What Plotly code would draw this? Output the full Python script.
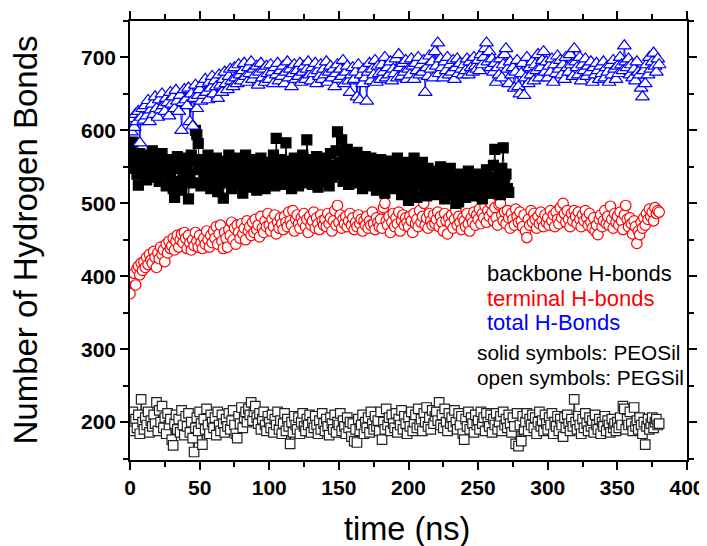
import plotly.graph_objects as go

# ---- data ----
total_pegsil = [
610, 598, 616, 604, 622, 612, 626, 583, 618, 630,
614, 634, 620, 641, 612, 628, 636, 622, 646, 630,
618, 642, 628, 650, 634, 626, 644, 638, 620, 652,
636, 646, 630, 655, 640, 626, 648, 600, 638, 656,
642, 634, 658, 612, 650, 606, 644, 662, 630, 648,
656, 640, 664, 648, 670, 652, 642, 666, 658, 674,
650, 668, 660, 644, 676, 662, 652, 670, 680, 664,
656, 674, 684, 668, 660, 686, 672, 664, 690, 676,
668, 682, 692, 674, 666, 686, 678, 694, 670, 684,
676, 688, 662, 680, 692, 672, 684, 666, 688, 678,
670, 690, 680, 664, 686, 676, 692, 668, 682, 674,
688, 664, 680, 694, 672, 684, 660, 678, 690, 670,
682, 674, 692, 666, 680, 688, 670, 684, 694, 676,
668, 686, 678, 692, 664, 682, 674, 690, 670, 684,
676, 694, 666, 680, 688, 672, 684, 660, 678, 690,
670, 684, 674, 696, 664, 680, 688, 668, 652, 676,
686, 670, 680, 646, 690, 642, 676, 664, 684, 672,
640, 680, 692, 668, 684, 676, 696, 666, 688, 678,
670, 690, 680, 700, 672, 686, 676, 694, 668, 684,
678, 698, 672, 704, 686, 674, 692, 680, 696, 670,
684, 676, 698, 688, 670, 692, 682, 700, 676, 690,
680, 696, 652, 686, 674, 702, 684, 694, 672, 708,
688, 720, 678, 698, 686, 672, 694, 682, 700, 676,
690, 680, 696, 670, 686, 698, 678, 692, 684, 676,
690, 682, 698, 676, 694, 686, 680, 700, 688, 684,
696, 682, 704, 690, 700, 712, 720, 694, 708, 686,
698, 680, 692, 666, 686, 676, 698, 672, 690, 704,
712, 684, 664, 694, 676, 686, 658, 680, 696, 660,
650, 678, 692, 648, 672, 700, 664, 686, 676, 694,
668, 690, 682, 704, 672, 686, 696, 708, 680, 694,
672, 688, 680, 698, 666, 690, 678, 702, 684, 696,
676, 690, 670, 700, 686, 680, 704, 690, 674, 712,
694, 686, 676, 700, 668, 690, 682, 698, 674, 688,
680, 694, 666, 686, 676, 692, 682, 670, 688, 678,
694, 672, 686, 680, 666, 690, 676, 696, 684, 670,
688, 678, 700, 690, 682, 716, 694, 686, 698, 676,
690, 672, 684, 668, 694, 680, 676, 658, 646, 682,
664, 690, 676, 700, 684, 694, 706, 688, 680, 698,
690]

backbone_peosil = [
570, 556, 584, 548, 562, 540, 525, 568, 552, 560,
544, 558, 532, 566, 548, 540, 572, 536, 556, 544,
562, 530, 550, 568, 542, 558, 524, 560, 546, 536,
552, 520, 508, 548, 564, 530, 556, 518, 544, 562,
532, 550, 506, 540, 566, 528, 558, 600, 594, 582,
546, 524, 560, 536, 552, 528, 566, 540, 520, 556,
532, 548, 562, 516, 544, 530, 558, 507, 540, 552,
528, 566, 544, 520, 556, 534, 548, 562, 526, 544,
558, 514, 540, 566, 530, 552, 522, 546, 560, 532,
548, 518, 556, 536, 562, 528, 544, 520, 552, 540,
530, 556, 542, 566, 524, 589, 548, 534, 560, 538,
552, 526, 583, 544, 530, 558, 520, 546, 562, 536,
548, 524, 556, 532, 566, 540, 528, 587, 552, 534,
560, 526, 546, 538, 564, 522, 550, 534, 558, 542,
530, 562, 546, 524, 568, 536, 552, 540, 572, 598,
556, 544, 587, 530, 562, 540, 574, 526, 552, 566,
538, 556, 528, 570, 544, 532, 560, 520, 548, 564,
534, 550, 524, 562, 540, 530, 556, 518, 546, 536,
560, 528, 550, 514, 542, 558, 522, 546, 534, 556,
520, 544, 562, 530, 548, 512, 540, 556, 526, 546,
504, 536, 552, 518, 562, 530, 508, 546, 526, 540,
556, 520, 538, 510, 548, 530, 516, 544, 522, 536,
512, 540, 526, 550, 518, 534, 506, 544, 520, 530,
548, 512, 536, 520, 500, 530, 502, 526, 540, 514,
532, 508, 522, 544, 516, 530, 510, 536, 520, 528,
512, 540, 524, 506, 532, 518, 546, 522, 528, 536,
514, 552, 574, 530, 520, 540, 512, 548, 576, 528,
540, 520, 515]

terminal_pegsil = [
376, 392, 398, 404, 388, 410, 414, 402, 418, 408,
420, 412, 426, 416, 430, 422, 418, 434, 426, 412,
432, 424, 440, 430, 436, 420, 444, 432, 448, 438,
442, 452, 436, 448, 456, 440, 450, 458, 446, 460,
452, 438, 456, 446, 436, 450, 442, 460, 448, 440,
456, 446, 438, 452, 444, 462, 450, 440, 456, 446,
462, 452, 468, 444, 458, 470, 448, 438, 460, 452,
440, 464, 456, 474, 450, 466, 444, 470, 460, 452,
472, 458, 466, 450, 476, 462, 468, 456, 474, 460,
478, 464, 470, 454, 482, 466, 460, 476, 468, 486,
470, 462, 478, 468, 484, 458, 474, 466, 480, 472,
464, 482, 474, 468, 488, 476, 470, 490, 462, 478,
484, 472, 466, 480, 474, 486, 468, 478, 460, 482,
470, 476, 488, 466, 480, 472, 464, 484, 476, 470,
478, 468, 486, 472, 480, 462, 476, 490, 470, 497,
474, 484, 466, 478, 472, 482, 468, 476, 486, 470,
480, 464, 474, 468, 484, 472, 478, 462, 476, 470,
482, 466, 476, 470, 488, 472, 464, 480, 474, 468,
478, 466, 494, 500, 476, 470, 482, 460, 474, 486,
468, 480, 472, 488, 462, 476, 484, 470, 480, 474,
468, 482, 476, 460, 486, 472, 478, 468, 490, 474,
482, 500, 470, 480, 466, 486, 476, 470, 484, 472,
478, 488, 468, 482, 474, 462, 486, 476, 458, 480,
472, 484, 466, 478, 490, 470, 482, 474, 464, 480,
476, 468, 486, 472, 462, 480, 474, 488, 470, 484,
478, 492, 472, 486, 480, 496, 474, 490, 482, 500,
488, 476, 494, 480, 470, 498, 500, 484, 476, 488,
472, 490, 480, 466, 486, 478, 470, 492, 482, 474,
488, 476, 468, 484, 462, 453, 478, 470, 490, 474,
486, 478, 466, 482, 472, 488, 476, 468, 484, 474,
480, 470, 490, 476, 484, 468, 488, 478, 472, 494,
480, 500, 486, 474, 490, 478, 468, 486, 476, 490,
482, 472, 488, 478, 468, 484, 476, 490, 480, 470,
486, 474, 466, 480, 462, 470, 457, 478, 484, 468,
476, 490, 472, 482, 470, 496, 478, 466, 486, 474,
482, 470, 488, 476, 464, 484, 497, 478, 468, 480,
472, 458, 476, 468, 445, 462, 457, 474, 466, 480,
470, 486, 478, 492, 482, 488, 476, 494, 486, 490,
488]

backbone_pegsil = [
208, 196, 214, 188, 204, 192, 210, 184, 231, 200,
190, 206, 196, 214, 186, 202, 194, 210, 198, 227,
188, 216, 200, 222, 192, 206, 184, 212, 196, 204,
176, 168, 198, 210, 190, 204, 186, 216, 196, 182,
208, 194, 212, 186, 200, 178, 159, 192, 206, 188,
214, 198, 169, 204, 190, 218, 196, 184, 210, 200,
192, 206, 182, 214, 196, 188, 210, 198, 186, 204,
194, 212, 190, 202, 216, 196, 184, 178, 208, 198,
220, 192, 206, 214, 200, 218, 210, 227, 202, 214,
222, 206, 198, 212, 190, 204, 214, 196, 188, 208,
200, 192, 210, 186, 204, 196, 214, 190, 202, 184,
198, 212, 188, 204, 194, 170, 200, 186, 208, 196,
190, 206, 184, 200, 212, 194, 188, 204, 196, 210,
186, 200, 192, 208, 196, 184, 202, 190, 212, 198,
188, 204, 194, 182, 206, 198, 190, 210, 186, 200,
196, 212, 188, 202, 194, 184, 206, 192, 200, 180,
198, 174, 190, 172, 204, 188, 196, 210, 184, 200,
192, 206, 186, 214, 198, 190, 208, 194, 202, 188,
214, 176, 200, 190, 218, 196, 206, 188, 210, 198,
192, 212, 186, 204, 196, 216, 190, 208, 198, 184,
206, 194, 214, 188, 200, 210, 192, 218, 196, 204,
188, 212, 200, 220, 194, 206, 190, 216, 198, 208,
214, 202, 227, 196, 210, 192, 218, 200, 188, 212,
198, 206, 194, 216, 200, 190, 212, 196, 208, 184,
176, 204, 194, 214, 190, 206, 198, 186, 210, 196,
202, 190, 214, 198, 206, 188, 212, 200, 194, 210,
186, 204, 196, 212, 190, 200, 208, 188, 214, 196,
204, 192, 210, 198, 186, 206, 194, 170, 212, 167,
196, 174, 208, 190, 200, 212, 188, 204, 196, 210,
192, 206, 184, 200, 214, 194, 202, 188, 210, 198,
190, 206, 196, 212, 184, 200, 194, 208, 188, 204,
196, 180, 206, 192, 210, 198, 188, 204, 194, 231,
200, 190, 208, 196, 184, 204, 192, 212, 198, 188,
206, 194, 202, 186, 210, 196, 190, 204, 184, 200,
194, 208, 188, 202, 196, 186, 204, 192, 198, 188,
200, 192, 206, 196, 222, 218, 190, 204, 196, 214,
198, 188, 220, 194, 202, 190, 206, 196, 184, 200,
169, 194, 204, 190, 198, 206, 192, 200, 204, 196,
198]

time_pegsil = list(range(len(total_pegsil)))      # ns, 1 ns sampling
time_peosil = list(range(len(backbone_peosil)))

x_ticks = [0, 50, 100, 150, 200, 250, 300, 350, 400]
y_ticks = [200, 300, 400, 500, 600, 700]

legend_lines = ["backbone H-bonds", "terminal H-bonds", "total H-Bonds"]
legend_colors = ["black", "red", "blue"]
note_lines = ["solid symbols: PEOSil", "open symbols: PEGSil"]

FONT = "Liberation Sans, Arial, sans-serif"

fig = go.Figure()

def tr(x, y, symbol, color, fill, size, lw=1.0):
    return go.Scatter(
        x=x, y=y, mode="lines+markers",
        line=dict(color=color, width=lw),
        marker=dict(symbol=symbol, size=size, color=fill,
                    line=dict(color=color, width=1.2)),
        showlegend=False, hoverinfo="skip")

fig.add_trace(tr(time_pegsil[:len(backbone_pegsil)], backbone_pegsil, "square", "#222222", "white", 9.5))
fig.add_trace(tr(time_pegsil[:len(terminal_pegsil)], terminal_pegsil, "circle", "red", "white", 10.5))
fig.add_trace(tr(time_peosil, backbone_peosil, "square", "black", "black", 10))
fig.add_trace(tr(time_pegsil, total_pegsil, "triangle-up", "blue", "white", 12))

axis_common = dict(
    showline=True, linecolor="black", linewidth=1.5, mirror="ticks",
    ticks="outside", ticklen=8, tickwidth=1.5, tickcolor="black",
    showgrid=False, zeroline=False, automargin=False,
    tickfont=dict(family=FONT, size=21, color="black", weight="bold"),
)

fig.update_xaxes(range=[0, 400], tickvals=x_ticks, ticktext=[str(v) for v in x_ticks],
                 minor=dict(dtick=25, tick0=0, ticks="outside", ticklen=5, tickwidth=1.5,
                            tickcolor="black", showgrid=False),
                 **axis_common)
fig.update_yaxes(range=[148, 750], tickvals=y_ticks, ticktext=[str(v) for v in y_ticks],
                 minor=dict(dtick=50, tick0=0, ticks="outside", ticklen=5, tickwidth=1.5,
                            tickcolor="black", showgrid=False),
                 **axis_common)

annotations = [
    dict(text="Number of Hydrogen Bonds", xref="paper", yref="paper",
         x=-0.1885, y=0.50, textangle=-90, showarrow=False,
         font=dict(family=FONT, size=33, color="black"),
         xanchor="center", yanchor="middle", borderpad=0),
    dict(text="time (ns)", xref="paper", yref="paper",
         x=0.497, y=-0.157, showarrow=False,
         font=dict(family=FONT, size=32.5, color="black"),
         xanchor="center", yanchor="middle", borderpad=0),
]
leg_y = [0.424, 0.369, 0.314]
for txt, col, yy in zip(legend_lines, legend_colors, leg_y):
    annotations.append(dict(text=txt, xref="paper", yref="paper", x=0.638, y=yy,
                            showarrow=False, xanchor="left", yanchor="middle",
                            font=dict(family=FONT, size=22, color=col)))
note_y = [0.244, 0.189]
for txt, yy in zip(note_lines, note_y):
    annotations.append(dict(text=txt, xref="paper", yref="paper", x=0.620, y=yy,
                            showarrow=False, xanchor="left", yanchor="middle",
                            font=dict(family=FONT, size=20.8, color="black")))

# The page body adds an 8 px margin, so the figure is made 8 px smaller and
# its margins shifted to keep the plot area where the reference has it.
fig.update_layout(
    width=699, height=538,
    margin=dict(l=122, r=20, t=13, b=86),
    paper_bgcolor="white", plot_bgcolor="white",
    font=dict(family=FONT, color="black"),
    annotations=annotations,
)

fig.write_html("out.html")
